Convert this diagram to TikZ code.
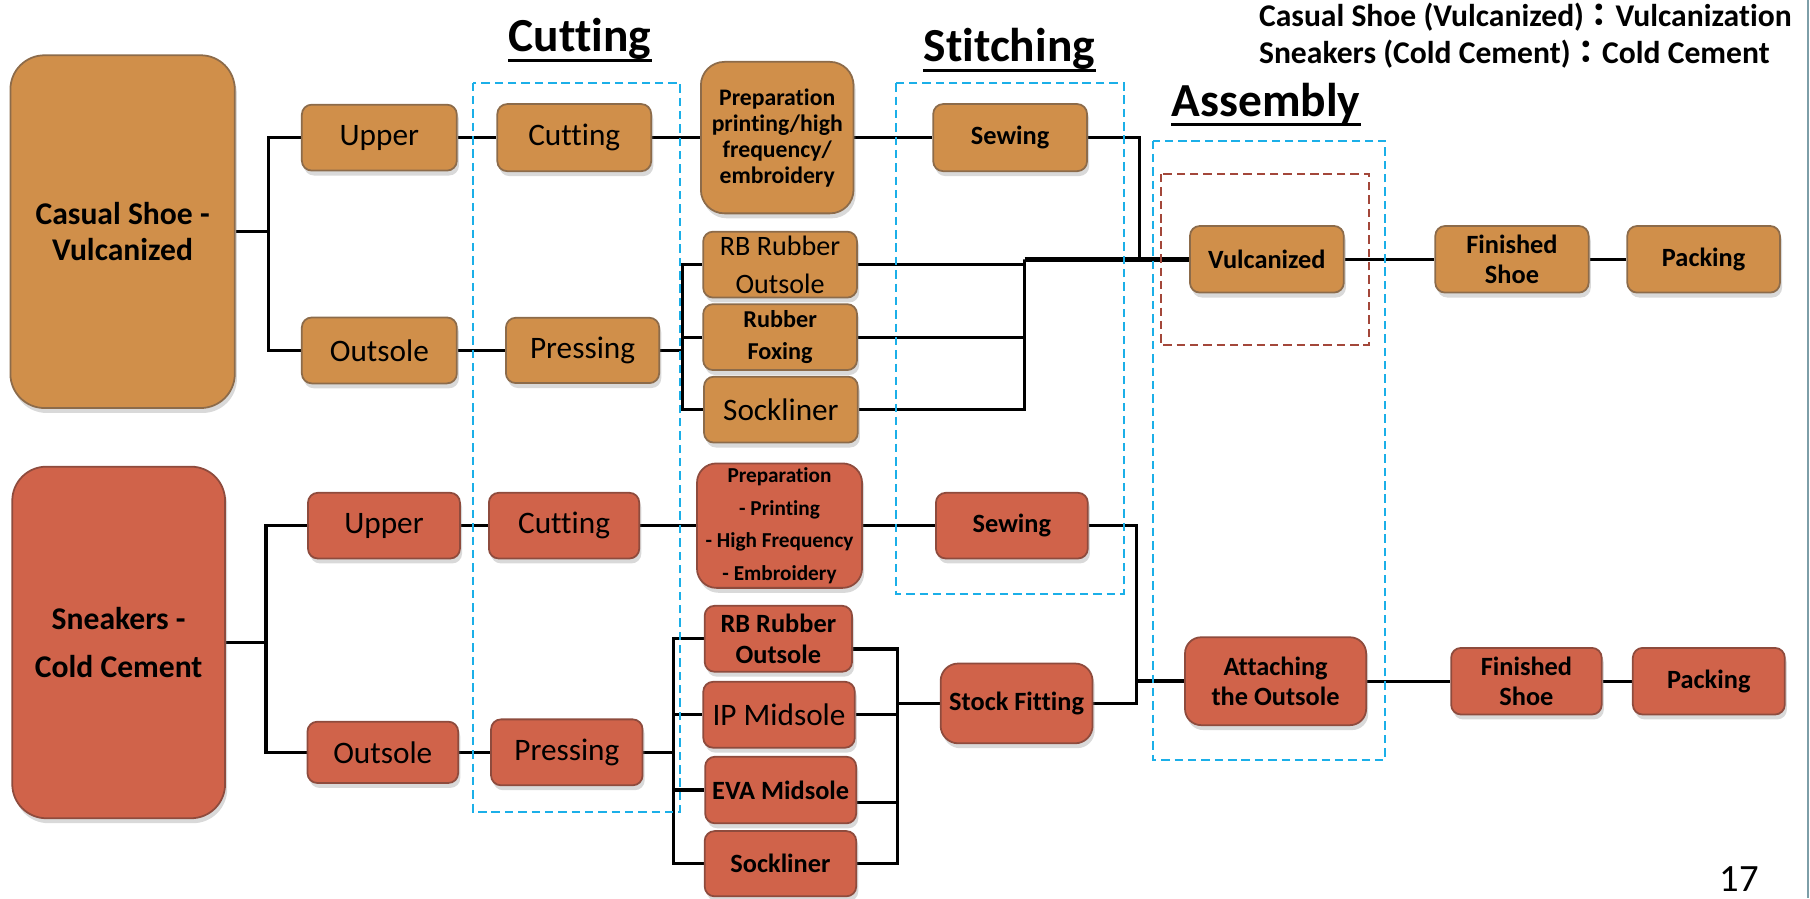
\documentclass[tikz,border=0pt]{standalone}
\usepackage{fontspec}
\setmainfont{Carlito}[Ligatures=NoCommon]
\newfontfamily\cjk{Noto Sans CJK TC}
\usepackage{tikz}
\usetikzlibrary{shadows,calc}
\pgfdeclarelayer{background}
\pgfsetlayers{background,main}
\definecolor{shoeorange}{HTML}{D08F4A}
\definecolor{shoered}{HTML}{D0634A}
\definecolor{orline}{HTML}{8C6B4A}
\definecolor{rdline}{HTML}{8E4B3D}
\definecolor{stagecyan}{HTML}{1BAFE8}
\definecolor{vulcbrown}{HTML}{A3473A}
\definecolor{edgeline}{HTML}{7D9EA8}
\newcommand{\pxu}{0.3292pt}
\newcommand{\fs}[2]{\fontsize{#1}{#2}\selectfont}
\tikzset{wh/.style 2 args={minimum width=#1*\pxu,minimum height=#2*\pxu}}

\begin{document}
\begin{tikzpicture}[x=0.3292pt,y=-0.3292pt]
\tikzstyle{shoebox}=[rectangle,rounded corners=2.8pt,inner sep=0pt,align=center,line width=0.5pt,drop shadow={shadow xshift=0.6pt,shadow yshift=-1.4pt,opacity=0.3}]
\tikzstyle{orbox}=[shoebox,draw=orline,fill=shoeorange]
\tikzstyle{rdbox}=[shoebox,draw=rdline,fill=shoered]
\tikzstyle{big}=[rounded corners=9.7pt]
\tikzstyle{reg}=[font=\fs{8.9}{10.7}]
\tikzstyle{bf}=[font=\fs{7.5}{8.6}\bfseries]
\tikzstyle{link}=[line width=0.9pt]
\tikzstyle{stage}=[draw=stagecyan,line width=0.6pt,dash pattern=on 2.4pt off 1.4pt]
\tikzstyle{ttl}=[inner sep=0pt,font=\fs{13.5}{16}\bfseries]
\useasboundingbox (0,0) rectangle (1565,776.5);

% casual shoe (vulcanized)
\node[orbox,big,wh={194}{305},font=\fs{9}{10.2}\bfseries] (casual) at (106,200.3) {Casual Shoe -\\Vulcanized};
\node[orbox,reg,wh={134}{57}] (upperA) at (328,119) {Upper};
\node[orbox,reg,wh={134}{57}] (outsoleA) at (328,303) {Outsole};
\node[orbox,reg,wh={133}{58}] (cutA) at (496.5,119) {Cutting};
\node[orbox,reg,wh={132.5}{56.5}] (pressA) at (503.7,303) {Pressing};
\node[orbox,rounded corners=6.7pt,wh={132}{131},font=\fs{6.75}{7.4}\bfseries] (prepA) at (672,119) {Preparation\\printing/high\\frequency/\\embroidery};
\node[orbox,bf,wh={133}{58}] (sewA) at (873.4,119) {Sewing};
\node[orbox,wh={133}{57},font=\fs{8}{10.9}] (rbA) at (674.5,228.8) {RB Rubber\\Outsole};
\node[orbox,wh={133}{57},font=\fs{6.9}{9}\bfseries] (foxA) at (674.5,291.5) {Rubber\\Foxing};
\node[orbox,reg,wh={133}{57}] (sockA) at (675.2,354.2) {Sockliner};
\node[orbox,bf,wh={133}{57.6}] (vulc) at (1095.4,224.2) {Vulcanized};
\node[orbox,bf,wh={132.6}{57.6}] (finA) at (1307.3,224.2) {Finished\\Shoe};
\node[orbox,bf,wh={132}{57.6}] (packA) at (1473,224.2) {Packing};

% sneakers (cold cement)
\node[rdbox,big,wh={184}{304},font=\fs{9}{13.8}\bfseries] (sneak) at (102.6,555.5) {Sneakers -\\Cold Cement};
\node[rdbox,reg,wh={131.4}{56.8}] (upperB) at (332,454.5) {Upper};
\node[rdbox,reg,wh={130.3}{53}] (outsoleB) at (331,650.5) {Outsole};
\node[rdbox,reg,wh={130}{56.8}] (cutB) at (487.7,454.5) {Cutting};
\node[rdbox,reg,wh={131}{57}] (pressB) at (490.1,650.5) {Pressing};
\node[rdbox,rounded corners=5.5pt,wh={142.7}{107.6},font=\fs{6.05}{9.3}\bfseries] (prepB) at (674,454.5) {Preparation\\- Printing\\- High Frequency\\- Embroidery};
\node[rdbox,bf,wh={131.3}{56.8}] (sewB) at (874.9,454.5) {Sewing};
\node[rdbox,bf,wh={127.4}{57}] (rbB) at (673,552.3) {RB Rubber\\Outsole};
\node[rdbox,reg,wh={131}{57}] (ipB) at (673.6,618) {IP Midsole};
\node[rdbox,bf,wh={130.6}{57.6}] (evaB) at (675,683.1) {EVA Midsole};
\node[rdbox,bf,wh={131}{56.4}] (sockB) at (674.8,746.8) {Sockliner};
\node[rdbox,bf,rounded corners=5pt,wh={131.4}{69}] (stock) at (879,608.2) {Stock Fitting};
\node[rdbox,bf,rounded corners=4.6pt,wh={156.6}{76}] (attach) at (1102.9,589) {Attaching\\the Outsole};
\node[rdbox,bf,wh={130.2}{57.6}] (finB) at (1319.8,589) {Finished\\Shoe};
\node[rdbox,bf,wh={131.4}{57.6}] (packB) at (1477.5,589) {Packing};

% junctions
\coordinate (splitA) at (232,200.3);
\coordinate (splitP) at (590,303);
\coordinate (mergeA) at (886,224.2);
\coordinate (dropA) at (985,224.2);
\coordinate (splitB) at (230,555.5);
\coordinate (splitQ) at (582.5,650.5);
\coordinate (mergeB) at (776,608.2);
\coordinate (joinB) at (983,589);
\coordinate (rbOut) at ([yshift=-2.9pt]rbB.east);
\coordinate (evaOut) at ([yshift=-3.5pt]evaB.east);

\begin{pgfonlayer}{background}
\draw[link] (casual.east) -- (splitA);
\draw[link] (upperA.west) -| (splitA) |- (outsoleA.west);
\draw[link] (upperA) -- (cutA) -- (prepA) -- (sewA);
\draw[link] (outsoleA) -- (pressA);
\draw[link] (pressA.east) -- (splitP);
\draw[link] (rbA.west) -| (splitP) |- (sockA.west);
\draw[link] (foxA.west) -- (foxA.west -| splitP);
\draw[link] (rbA.east) -| (mergeA) |- (sockA.east);
\draw[link] (foxA.east) -- (foxA.east -| mergeA);
\draw[link,line width=1.3pt] (mergeA) -- (vulc.west);
\draw[link] (sewA.east) -| (dropA);
\draw[link] (vulc) -- (finA) -- (packA);

\draw[link] (sneak.east) -- (splitB);
\draw[link] (upperB.west) -| (splitB) |- (outsoleB.west);
\draw[link] (upperB) -- (cutB) -- (prepB) -- (sewB);
\draw[link] (outsoleB) -- (pressB);
\draw[link] (pressB.east) -- (splitQ);
\draw[link] (rbB.west) -| (splitQ) |- (sockB.west);
\draw[link] (ipB.west) -- (ipB.west -| splitQ);
\draw[link] (evaB.west) -- (evaB.west -| splitQ);
\draw[link] (rbOut) -| (mergeB) |- (sockB.east);
\draw[link] (ipB.east) -- (ipB.east -| mergeB);
\draw[link] (evaOut) -- (evaOut -| mergeB);
\draw[link] (mergeB) -- (stock.west);
\draw[link] (sewB.east) -| (joinB);
\draw[link] (stock.east) -| (joinB);
\draw[link,line width=1.3pt] (joinB) -- (attach.west);
\draw[link] (attach) -- (finB) -- (packB);
\end{pgfonlayer}

% stages
\draw[stage] (409,71.5) rectangle (588,702);
\draw[stage] (775,72) rectangle (971.6,513.6);
\draw[stage] (997,121.6) rectangle (1197.5,657);
\draw[stage,draw=vulcbrown] (1003.5,150.5) rectangle (1183.7,298.3);

\node[ttl,anchor=base west] (cutT) at (439.4,44.7) {Cutting};
\draw[line width=0.9pt] (cutT.south west) -- (cutT.south east);
\node[ttl,anchor=base west] (stitchT) at (798,53.3) {Stitching};
\draw[line width=0.9pt] (stitchT.south west) -- (stitchT.south east);
\node[ttl,anchor=base west] (assyT) at (1012.6,100.9) {Assembly};
\draw[line width=0.9pt] (assyT.south west) -- (assyT.south east);

% legend and page
\node[inner sep=0pt,anchor=base west,font=\fs{9}{11}\bfseries] (leg1) at (1088,23) {Casual Shoe (Vulcanized){\cjk ：}Vulcanization};
\node[inner sep=0pt,anchor=base west,font=\fs{9}{11}\bfseries] (leg2) at (1088,54.7) {Sneakers (Cold Cement){\cjk ：}Cold Cement};
\node[inner sep=0pt,anchor=base,font=\fs{11}{13}] (page) at (1504,771) {17};
\draw[edgeline,line width=0.6pt] (1563.4,0) -- (1563.4,776.5);
\end{tikzpicture}
\end{document}
